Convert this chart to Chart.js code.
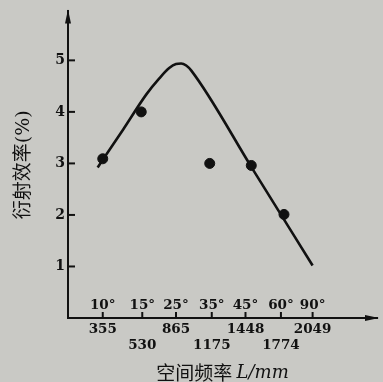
<!DOCTYPE html>
<html lang="zh">
<head>
  <meta charset="UTF-8" />
  <title>衍射效率</title>
  <script src="https://cdn.jsdelivr.net/npm/chart.js@4"></script>
  <style>
    html, body { margin: 0; padding: 0; background: #c9c9c5; }
    #wrap { width: 383px; height: 382px; }
  </style>
</head>
<body>
  <div id="wrap"><canvas id="chart"></canvas></div>

  <script>
    // tick marks along the frequency axis (axis units, one unit ≈ one step)
    const angleLabels = ['10°', '15°', '25°', '35°', '45°', '60°', '90°'];
    const freqLabels = ['355', '530', '865', '1175', '1448', '1774', '2049'];
    const tickPos = [0, 1.16, 2.15, 3.2, 4.19, 5.23, 6.16];
    const yTicks = [1, 2, 3, 4, 5];

    // measured points
    const dotX = [0, 1.13, 3.14, 4.36, 5.32];
    const dotY = [3.09, 4.0, 3.0, 2.96, 2.01];

    // fitted curve
    const curveX = [-0.15, 0.6, 1.28, 1.66, 1.95, 2.15, 2.3, 2.45, 2.6, 4.4, 6.16];
    const curveY = [2.92, 3.66, 4.34, 4.65, 4.85, 4.93, 4.94, 4.9, 4.8, 2.89, 1.02];

    const ink = '#111';
    const serif = 'DejaVu Serif, Noto Sans CJK SC, serif';

    const deco = {
      id: 'deco',
      afterDraw(chart) {
        const { ctx, chartArea: a, scales: { x, y } } = chart;
        ctx.save();
        ctx.strokeStyle = ink;
        ctx.fillStyle = ink;
        ctx.lineWidth = 2;
        // inward ticks
        yTicks.forEach(v => {
          const py = y.getPixelForValue(v);
          ctx.beginPath(); ctx.moveTo(a.left, py); ctx.lineTo(a.left + 7, py); ctx.stroke();
        });
        tickPos.forEach(v => {
          const px = x.getPixelForValue(v);
          ctx.beginPath(); ctx.moveTo(px, a.bottom); ctx.lineTo(px, a.bottom - 6); ctx.stroke();
        });
        // angle labels above the axis
        ctx.font = 'bold 13.5px ' + serif;
        ctx.textAlign = 'center';
        ctx.textBaseline = 'middle';
        angleLabels.forEach((t, i) => {
          ctx.fillText(t, x.getPixelForValue(tickPos[i]), a.bottom - 13);
        });
        // x title: CJK part + italic unit
        const cjk = '空间频率 ';
        const unit = 'L/mm';
        ctx.font = '19px Noto Sans CJK SC';
        const w1 = ctx.measureText(cjk).width;
        ctx.font = 'italic 18px DejaVu Serif';
        const w2 = ctx.measureText(unit).width;
        let tx = (a.left + a.right) / 2 - (w1 + w2) / 2;
        ctx.textAlign = 'left';
        ctx.font = '19px Noto Sans CJK SC';
        ctx.fillText(cjk, tx, 373);
        ctx.font = 'italic 18px DejaVu Serif';
        ctx.fillText(unit, tx + w1, 373);
        // arrow heads
        ctx.beginPath();
        ctx.moveTo(a.left, a.top - 2); ctx.lineTo(a.left - 3, a.top + 12); ctx.lineTo(a.left + 3, a.top + 12);
        ctx.closePath(); ctx.fill();
        ctx.beginPath();
        ctx.moveTo(a.right + 2, a.bottom); ctx.lineTo(a.right - 12, a.bottom - 3); ctx.lineTo(a.right - 12, a.bottom + 3);
        ctx.closePath(); ctx.fill();
        ctx.restore();
      }
    };

    new Chart(document.getElementById('chart'), {
      type: 'scatter',
      data: {
        datasets: [
          {
            type: 'line',
            data: curveX.map((v, i) => ({ x: v, y: curveY[i] })),
            borderColor: ink,
            borderWidth: 2.6,
            pointRadius: 0,
            cubicInterpolationMode: 'monotone',
            fill: false
          },
          {
            data: dotX.map((v, i) => ({ x: v, y: dotY[i] })),
            backgroundColor: ink,
            borderColor: ink,
            pointRadius: 5
          }
        ]
      },
      options: {
        responsive: true,
        maintainAspectRatio: false,
        animation: false,
        layout: { padding: { top: 10, right: 3, left: 0, bottom: 0 } },
        plugins: { legend: { display: false }, tooltip: { enabled: false } },
        scales: {
          x: {
            type: 'linear',
            min: -1.02,
            max: 8.05,
            afterBuildTicks: s => { s.ticks = tickPos.map(v => ({ value: v })); },
            afterFit: s => { s.height = 64; },
            border: { color: ink, width: 2 },
            grid: { display: false, drawTicks: false },
            ticks: {
              autoSkip: false,
              maxRotation: 0,
              padding: 3,
              color: ink,
              font: { family: serif, size: 13.5, weight: 'bold', lineHeight: 1.2 },
              callback: (v, i) => (i % 2 ? ['', freqLabels[i]] : freqLabels[i])
            },
            title: { display: false }
          },
          y: {
            min: 0,
            max: 5.95,
            afterBuildTicks: s => { s.ticks = yTicks.map(v => ({ value: v })); },
            afterFit: s => { s.width = 68; },
            border: { color: ink, width: 2 },
            grid: { display: false, drawTicks: false },
            ticks: {
              padding: 3,
              color: ink,
              font: { family: serif, size: 14, weight: 'bold' }
            },
            title: {
              display: true,
              text: '衍射效率(%)',
              color: ink,
              font: { family: serif, size: 19 },
              padding: { top: 13, bottom: 0 }
            }
          }
        }
      },
      plugins: [deco]
    });
  </script>
</body>
</html>
